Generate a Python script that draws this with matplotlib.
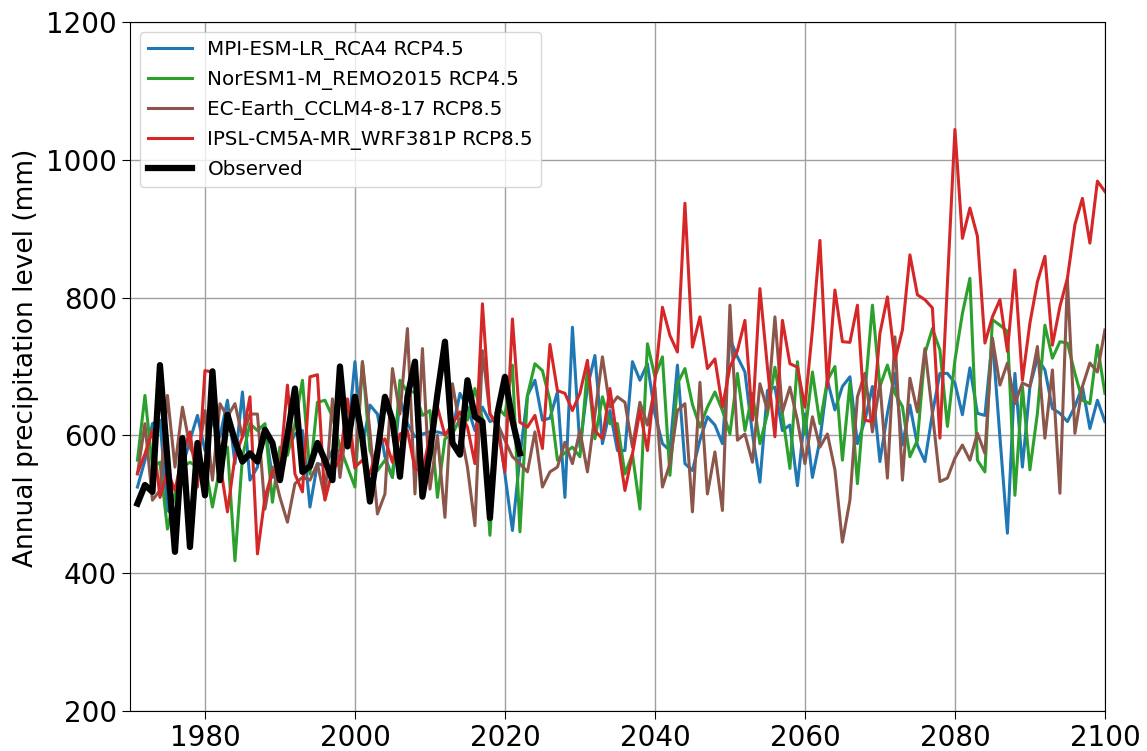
import numpy as np
import matplotlib
matplotlib.use("Agg")
from matplotlib import pyplot as plt

years = np.arange(1971, 2101)
obs_years = np.arange(1971, 2023)

mpi_rca4 = [525, 564, 617, 622, 491, 484, 554, 593, 629, 578,
            622, 598, 651, 559, 663, 535, 554, 612, 539, 564,
            578, 602, 607, 496, 559, 556, 578, 578, 593, 707,
            583, 644, 631, 569, 539, 653, 617, 598, 602, 605,
            605, 602, 607, 661, 641, 607, 641, 620, 625, 544,
            462, 569, 658, 680, 622, 625, 663, 510, 757, 583,
            670, 716, 588, 636, 578, 578, 707, 680, 704, 631,
            588, 578, 702, 559, 549, 593, 627, 615, 588, 740,
            714, 692, 602, 532, 665, 670, 607, 615, 527, 631,
            539, 593, 680, 637, 671, 685, 588, 622, 671, 562,
            632, 690, 586, 644, 586, 562, 632, 690, 690, 676,
            630, 698, 632, 629, 741, 598, 458, 690, 554, 671,
            712, 695, 639, 632, 620, 642, 671, 610, 651, 620]

noresm_remo = [564, 658, 554, 561, 464, 515, 554, 561, 554, 560,
               496, 554, 583, 418, 569, 617, 607, 617, 503, 583,
               571, 617, 680, 544, 648, 651, 627, 583, 554, 525,
               707, 578, 549, 564, 539, 680, 663, 663, 629, 636,
               510, 595, 602, 624, 622, 668, 624, 455, 641, 629,
               702, 460, 658, 704, 694, 651, 564, 575, 583, 569,
               697, 595, 656, 617, 617, 544, 573, 493, 733, 685,
               714, 542, 675, 697, 645, 612, 641, 663, 636, 602,
               690, 607, 661, 588, 631, 699, 631, 552, 707, 602,
               692, 617, 680, 700, 564, 676, 530, 661, 789, 671,
               702, 661, 642, 569, 593, 719, 755, 724, 613, 709,
               777, 828, 564, 547, 768, 760, 751, 513, 671, 550,
               632, 760, 712, 736, 734, 690, 651, 646, 731, 661]

ecearth_cclm = [544, 617, 506, 520, 658, 554, 641, 583, 560, 636,
                535, 646, 627, 646, 598, 631, 631, 493, 554, 510,
                474, 530, 539, 535, 559, 508, 653, 539, 622, 552,
                707, 605, 486, 515, 697, 631, 755, 515, 726, 522,
                600, 481, 675, 612, 554, 469, 723, 631, 617, 593,
                569, 559, 547, 605, 525, 547, 554, 590, 559, 607,
                547, 631, 714, 641, 656, 648, 583, 648, 615, 670,
                525, 559, 636, 646, 489, 677, 515, 576, 491, 789,
                593, 602, 561, 675, 636, 772, 634, 670, 622, 559,
                627, 583, 602, 550, 445, 506, 656, 690, 605, 676,
                538, 743, 535, 683, 634, 726, 632, 533, 538, 567,
                586, 564, 603, 574, 741, 673, 705, 646, 676, 671,
                729, 596, 695, 516, 826, 603, 671, 705, 692, 753]

ipsl_wrf = [545, 573, 607, 510, 549, 520, 573, 605, 525, 694,
            692, 560, 489, 569, 598, 656, 428, 510, 547, 552,
            673, 544, 518, 685, 688, 506, 549, 564, 653, 554,
            564, 544, 585, 595, 561, 602, 607, 552, 547, 600,
            641, 600, 617, 634, 612, 559, 791, 631, 612, 547,
            769, 619, 612, 629, 581, 732, 665, 661, 636, 661,
            709, 607, 595, 668, 593, 520, 573, 636, 578, 680,
            786, 745, 721, 937, 728, 772, 697, 711, 641, 699,
            723, 767, 622, 813, 699, 598, 767, 704, 699, 641,
            753, 883, 670, 811, 736, 735, 789, 622, 620, 748,
            801, 709, 753, 862, 804, 797, 785, 596, 820, 1044,
            886, 930, 889, 734, 772, 797, 722, 840, 680, 763,
            823, 860, 731, 787, 828, 906, 944, 879, 969, 954]

observed = [501, 528, 518, 702, 565, 431, 596, 438, 589, 513,
            693, 535, 630, 592, 562, 574, 562, 608, 589, 535,
            600, 668, 547, 555, 589, 564, 535, 700, 584, 656,
            595, 504, 575, 656, 622, 540, 656, 707, 511, 575,
            660, 736, 589, 572, 680, 627, 620, 480, 632, 685,
            622, 574]

labels = ["MPI-ESM-LR_RCA4 RCP4.5", "NorESM1-M_REMO2015 RCP4.5",
          "EC-Earth_CCLM4-8-17 RCP8.5", "IPSL-CM5A-MR_WRF381P RCP8.5", "Observed"]

fig = plt.figure(figsize=(11.47, 7.51), dpi=100)
ax = fig.add_axes([0.1133, 0.0533, 0.85, 0.9174])

ax.plot(years, mpi_rca4, color="#1f77b4", lw=2.2, label=labels[0])
ax.plot(years, noresm_remo, color="#2ca02c", lw=2.2, label=labels[1])
ax.plot(years, ecearth_cclm, color="#8c564b", lw=2.2, label=labels[2])
ax.plot(years, ipsl_wrf, color="#d62728", lw=2.2, label=labels[3])
ax.plot(obs_years, observed, color="black", lw=4.5, label=labels[4])

ax.set_xlim(1970, 2100)
ax.set_ylim(200, 1200)
ax.set_xticks([1980, 2000, 2020, 2040, 2060, 2080, 2100])
ax.set_yticks([200, 400, 600, 800, 1000, 1200])
ax.tick_params(labelsize=20, length=6)
ax.set_ylabel("Annual precipitation level (mm)", fontsize=19)
ax.yaxis.set_label_coords(-0.093, 0.512)
ax.grid(True, color="#a0a0a0", lw=1)

ax.legend(loc="upper left", fontsize=14.3, handlelength=2.2)

fig.savefig("out.png", dpi=100)
